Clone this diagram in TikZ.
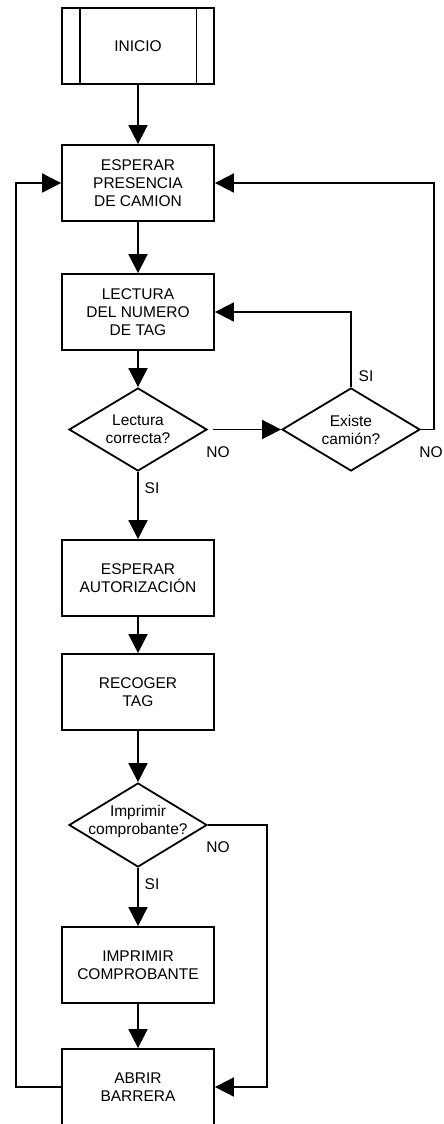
\documentclass[tikz,border=0pt]{standalone}
\usepackage{fontspec}
\setmainfont{Liberation Sans}
\usetikzlibrary{shapes.geometric,arrows.meta}
\begin{document}
\begin{tikzpicture}[x=1pt,y=-1pt,
  line width=1.8pt,
  every node/.style={font=\fontsize{15.5}{18}\selectfont},
  procbox/.style={draw, rectangle, minimum width=152pt, minimum height=76pt,
    align=center, inner sep=0pt},
  decision/.style={draw, diamond, minimum width=138pt, minimum height=83pt,
    inner sep=0pt},
  dtext/.style={align=center, inner sep=0pt},
  flow/.style={-{Triangle[length=19pt,width=19pt]}},
  lbl/.style={inner sep=0pt}]
\useasboundingbox (0,0) rectangle (444,1124);

% process steps
\node[procbox] (ini) at (138,46) {INICIO};
\draw ([xshift=18.5pt]ini.north west) -- ([xshift=18.5pt]ini.south west);
\draw ([xshift=-18.5pt]ini.north east) -- ([xshift=-18.5pt]ini.south east);
\node[procbox] (esp) at (138,183) {ESPERAR\\PRESENCIA\\DE CAMION};
\node[procbox] (lec) at (138,312) {LECTURA\\DEL NUMERO\\DE TAG};
\node[decision] (d1) at (138,429.5) {};
\node[dtext] (d1t) at (d1) {Lectura\\correcta?};
\node[decision] (d2) at (351,429.5) {};
\node[dtext] (d2t) at (d2) {Existe\\camión?};
\node[procbox] (aut) at (138,578) {ESPERAR\\AUTORIZACIÓN};
\node[procbox] (rec) at (138,692) {RECOGER\\TAG};
\node[decision, minimum height=84pt] (d3) at (138,825) {};
\node[dtext] (d3t) at ([yshift=4pt]d3.center) {Imprimir\\comprobante?};
\node[procbox] (imp) at (138,965) {IMPRIMIR\\COMPROBANTE};
\node[procbox] (abr) at (138,1087) {ABRIR\\BARRERA};

% bends of the loop-back lines
\coordinate (r1) at (434,429.5);
\coordinate (r3) at (267,825);
\coordinate (lx) at (16,1087);

% main flow
\draw[flow] (ini.south) -- (esp.north);
\draw[flow] (esp.south) -- (lec.north);
\draw[flow] (lec.south) -- (d1.north);
\draw[flow] ([xshift=5pt]d1.east) -- (d2.west);
\draw[flow] (d2.north) -- (d2.north |- lec.east) -- (lec.east);
\draw[flow] (d2.east) -- (r1) |- (esp.east);
\draw[flow] (d1.south) -- (aut.north);
\draw[flow] (aut.south) -- (rec.north);
\draw[flow] (rec.south) -- (d3.north);
\draw[flow] (d3.south) -- (imp.north);
\draw[flow] (imp.south) -- (abr.north);
\draw[flow] (d3.east) -- (r3) |- (abr.east);
\draw[flow] (abr.west) -- (lx) |- (esp.west);

% branch labels
\node[lbl] (n1) at (218,452) {NO};
\node[lbl] (s1) at (152,488) {SI};
\node[lbl] (s2) at (366,376) {SI};
\node[lbl] (n2) at (431,452) {NO};
\node[lbl] (n3) at (218,847) {NO};
\node[lbl] (s3) at (152,884) {SI};
\end{tikzpicture}
\end{document}
